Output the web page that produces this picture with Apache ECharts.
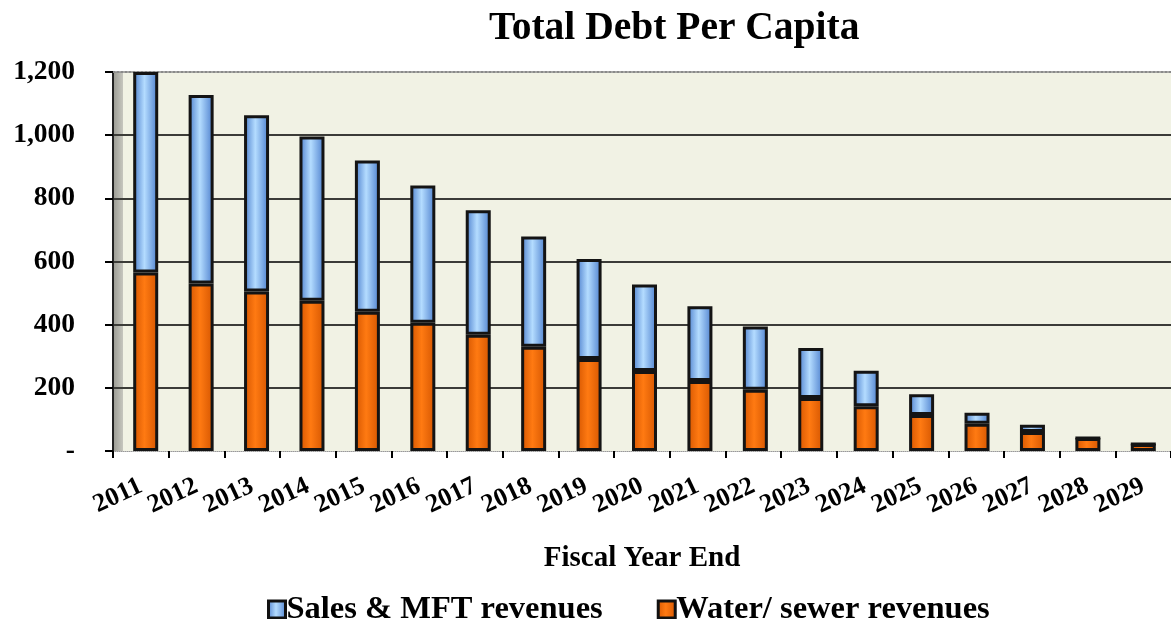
<!DOCTYPE html>
<html>
<head>
<meta charset="utf-8">
<title>Total Debt Per Capita</title>
<script src="https://cdn.jsdelivr.net/npm/echarts@6/dist/echarts.min.js"></script>
<style>
  html, body { margin: 0; padding: 0; background: #ffffff; }
  #chart { width: 1171px; height: 619px; }
</style>
</head>
<body>
<div id="chart"></div>
<script>
// Fiscal years on the category axis
const years = ['2011', '2012', '2013', '2014', '2015', '2016', '2017', '2018', '2019', '2020',
               '2021', '2022', '2023', '2024', '2025', '2026', '2027', '2028', '2029'];

// Debt per capita backed by water/sewer revenues (bottom of each stack)
const waterSewer = [565, 530, 505, 476, 441, 406, 368, 330, 291, 253,
                    222, 194, 168, 142, 114, 86, 60, 41, 22];

// Debt per capita backed by sales & MFT revenues (top of each stack)
const salesMft = [635, 597, 558, 520, 479, 435, 394, 349, 317, 274,
                  236, 200, 158, 112, 66, 35, 23, 0, 0];

// Value-axis ticks
const yTicks = [0, 200, 400, 600, 800, 1000, 1200];

const serif = '"Liberation Serif", "Times New Roman", serif';

const blueFill = new echarts.graphic.LinearGradient(0, 0, 1, 0, [
  { offset: 0, color: '#4a7dcc' },
  { offset: 0.45, color: '#b4dcff' },
  { offset: 1, color: '#4a7dcc' }
]);
const orangeFill = new echarts.graphic.LinearGradient(0, 0, 1, 0, [
  { offset: 0, color: '#d45500' },
  { offset: 0.45, color: '#ff7a12' },
  { offset: 1, color: '#d45500' }
]);
// Plot background: grey side wall on the left, pale beige elsewhere
const plotFill = new echarts.graphic.LinearGradient(0, 0, 1, 0, [
  { offset: 0, color: '#9a9a92' },
  { offset: 0.009, color: '#c4c4bc' },
  { offset: 0.0095, color: '#f1f2e4' },
  { offset: 1, color: '#f1f2e4' }
]);

const chart = echarts.init(document.getElementById('chart'), null, { renderer: 'canvas' });

chart.setOption({
  animation: false,
  backgroundColor: '#ffffff',
  title: {
    text: 'Total Debt Per Capita',
    left: 484,
    top: 4,
    textStyle: { fontFamily: serif, fontWeight: 'bold', fontSize: 39.5, color: '#000' }
  },
  legend: {
    data: ['Sales & MFT revenues', 'Water/ sewer revenues'],
    left: 262,
    top: 588,
    itemWidth: 17,
    itemHeight: 17,
    itemGap: 54,
    icon: 'rect',
    itemStyle: { borderColor: '#111', borderWidth: 3 },
    textStyle: { fontFamily: serif, fontWeight: 'bold', fontSize: 32.5, color: '#000', padding: [0, 0, 0, -4] }
  },
  grid: [
    { left: 113, top: 72, width: 1060, bottom: 168, show: true, backgroundColor: plotFill, borderWidth: 0 },
    { left: 118, top: 72, width: 1060, bottom: 168 }
  ],
  xAxis: [
    {
      type: 'category',
      gridIndex: 0,
      data: years,
      boundaryGap: true,
      position: 'bottom',
      name: 'Fiscal Year End',
      nameLocation: 'middle',
      nameGap: 93,
      nameTextStyle: { fontFamily: serif, fontWeight: 'bold', fontSize: 29, color: '#000' },
      axisLine: { show: true, lineStyle: { color: '#9a9a9a', width: 1, type: 'dotted' } },
      axisTick: { show: true, alignWithLabel: false, length: 7, lineStyle: { color: '#000', width: 2 } },
      axisLabel: {
        interval: 0,
        rotate: 25,
        margin: 34,
        fontFamily: serif,
        fontWeight: 'bold',
        fontSize: 26,
        color: '#000'
      },
      splitLine: { show: false }
    },
    {
      type: 'category',
      gridIndex: 0,
      data: years,
      position: 'top',
      axisLine: { show: true, lineStyle: { color: '#8a8a8a', width: 2, type: 'dotted' } },
      axisTick: { show: false },
      axisLabel: { show: false }
    },
    {
      type: 'category',
      gridIndex: 1,
      data: years,
      show: false
    }
  ],
  yAxis: [
    {
      type: 'value',
      gridIndex: 0,
      min: yTicks[0],
      max: yTicks[yTicks.length - 1],
      interval: 200,
      axisLine: { show: true, lineStyle: { color: '#222', width: 2 } },
      axisTick: { show: true, length: 8, lineStyle: { color: '#000', width: 2 } },
      axisLabel: {
        margin: 38,
        fontFamily: serif,
        fontWeight: 'bold',
        fontSize: 27.5,
        color: '#000',
        formatter: v => (v === 0 ? '-' : v.toLocaleString('en-US'))
      },
      splitLine: {
        show: true,
        showMinLine: false,
        showMaxLine: false,
        lineStyle: { color: '#3c3c38', width: 2 }
      }
    },
    {
      type: 'value',
      gridIndex: 1,
      min: yTicks[0],
      max: yTicks[yTicks.length - 1],
      interval: 200,
      show: false,
      splitLine: { show: false }
    }
  ],
  series: [
    {
      name: 'Water/ sewer revenues',
      type: 'bar',
      stack: 'debt',
      xAxisIndex: 2,
      yAxisIndex: 1,
      barWidth: 25,
      data: waterSewer,
      itemStyle: { color: orangeFill, borderColor: '#141414', borderWidth: 3 }
    },
    {
      name: 'Sales & MFT revenues',
      type: 'bar',
      stack: 'debt',
      xAxisIndex: 2,
      yAxisIndex: 1,
      barWidth: 25,
      data: salesMft,
      itemStyle: { color: blueFill, borderColor: '#141414', borderWidth: 3 }
    }
  ]
});
</script>
</body>
</html>
